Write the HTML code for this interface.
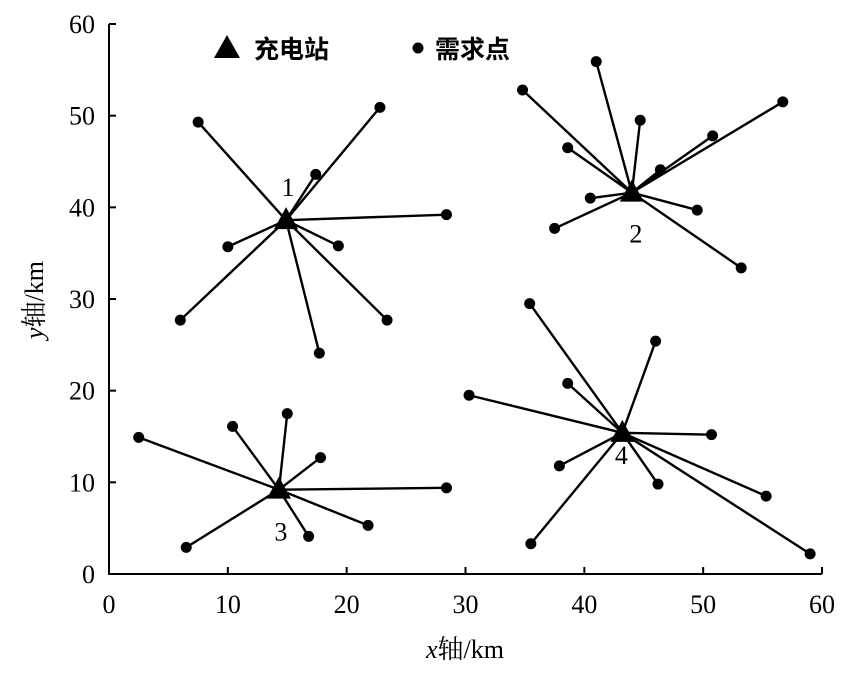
<!DOCTYPE html>
<html><head><meta charset="utf-8"><style>
body{margin:0;background:#fff;}
svg{display:block;font-family:"Liberation Serif","Noto Serif CJK SC",serif;}
</style></head><body>
<svg id="chart" width="850" height="676" viewBox="0 0 850 676"></svg>
<script>
const stationX=[14.9,44.0,14.3,43.2];
const stationY=[38.6,41.6,9.2,15.4];
const stationLabels=["1","2","3","4"];
const demandX=[
[7.5,22.8,17.4,28.4,10.0,19.3,23.4,17.7,6.0],
[34.8,41.0,44.7,56.7,50.8,38.6,46.4,40.5,49.5,37.5,53.2],
[2.5,10.4,15.0,17.8,28.4,21.8,16.8,6.5],
[35.4,30.3,38.6,46.0,50.7,37.9,46.2,35.5,55.3,59.0]];
const demandY=[
[49.3,50.9,43.6,39.2,35.7,35.8,27.7,24.1,27.7],
[52.8,55.9,49.5,51.5,47.8,46.5,44.1,41.0,39.7,37.7,33.4],
[14.9,16.1,17.5,12.7,9.4,5.3,4.1,2.9],
[29.5,19.5,20.8,25.4,15.2,11.8,9.8,3.3,8.5,2.2]];
const xTicks=[0,10,20,30,40,50,60];
const yTicks=[0,10,20,30,40,50,60];
const NS="http://www.w3.org/2000/svg";
const svg=document.getElementById('chart');
const X=v=>109+v*(822-109)/60;
const Y=v=>574-v*(574-24)/60;
function mk(t,a,txt){const e=document.createElementNS(NS,t);for(const k in a)e.setAttribute(k,a[k]);if(txt!==undefined)e.textContent=txt;svg.appendChild(e);return e;}
let ax=mk('line',{x1:109,y1:24,x2:109,y2:575,stroke:'#000','stroke-width':2});


ax=mk('line',{x1:108,y1:574,x2:822,y2:574,stroke:'#000','stroke-width':2});


xTicks.forEach(t=>{
 const l=mk('line',{x1:X(t),y1:574,x2:X(t),y2:567,stroke:'#000','stroke-width':2});
 
 
 const tx=mk('text',{x:X(t),y:613,'text-anchor':'middle','font-size':26},t);
 
 
});
yTicks.forEach(t=>{
 const l=mk('line',{x1:109,y1:Y(t),x2:116,y2:Y(t),stroke:'#000','stroke-width':2});
 
 
 const tx=mk('text',{x:95,y:Y(t)+9,'text-anchor':'end','font-size':26},t);
 
 
});
let xt=mk('text',{x:465,y:658,'text-anchor':'middle','font-size':26});
xt.innerHTML='<tspan font-style="italic">x</tspan>轴/km';


let yt=mk('text',{x:0,y:0,'text-anchor':'middle','font-size':26,transform:'translate(43,300) rotate(-90)'});
yt.innerHTML='<tspan font-style="italic">y</tspan>轴/km';


stationX.forEach((sx,i)=>{
 demandX[i].forEach((dx,j)=>{
  const l=mk('line',{x1:X(sx),y1:Y(stationY[i]),x2:X(dx),y2:Y(demandY[i][j]),stroke:'#000','stroke-width':2.4});
  
  
 });
});
stationX.forEach((sx,i)=>{
 demandX[i].forEach((dx,j)=>{
  const c=mk('circle',{cx:X(dx),cy:Y(demandY[i][j]),r:5.5,fill:'#000'});
  
  
 });
});
const lblOff=[[2,-24],[4,50],[2,51],[-1,31]];
stationX.forEach((sx,i)=>{
 const cx=X(sx),cy=Y(stationY[i]);
 const p=mk('polygon',{points:`${cx},${cy-13} ${cx-12},${cy+9} ${cx+12},${cy+9}`,fill:'#000'});
 
 
 const t=mk('text',{x:cx+lblOff[i][0],y:cy+lblOff[i][1],'text-anchor':'middle','font-size':26},stationLabels[i]);
 
 
});
let lp=mk('polygon',{points:'227,35 214,58 240,58',fill:'#000'});


let lt=mk('text',{x:254,y:58,'font-size':25,'font-weight':'bold','font-family':'"Noto Sans CJK SC",sans-serif'},'充电站');


let lc=mk('circle',{cx:418,cy:48,r:5.5,fill:'#000'});


lt=mk('text',{x:435,y:58,'font-size':25,'font-weight':'bold','font-family':'"Noto Sans CJK SC",sans-serif'},'需求点');


</script>
</body></html>
